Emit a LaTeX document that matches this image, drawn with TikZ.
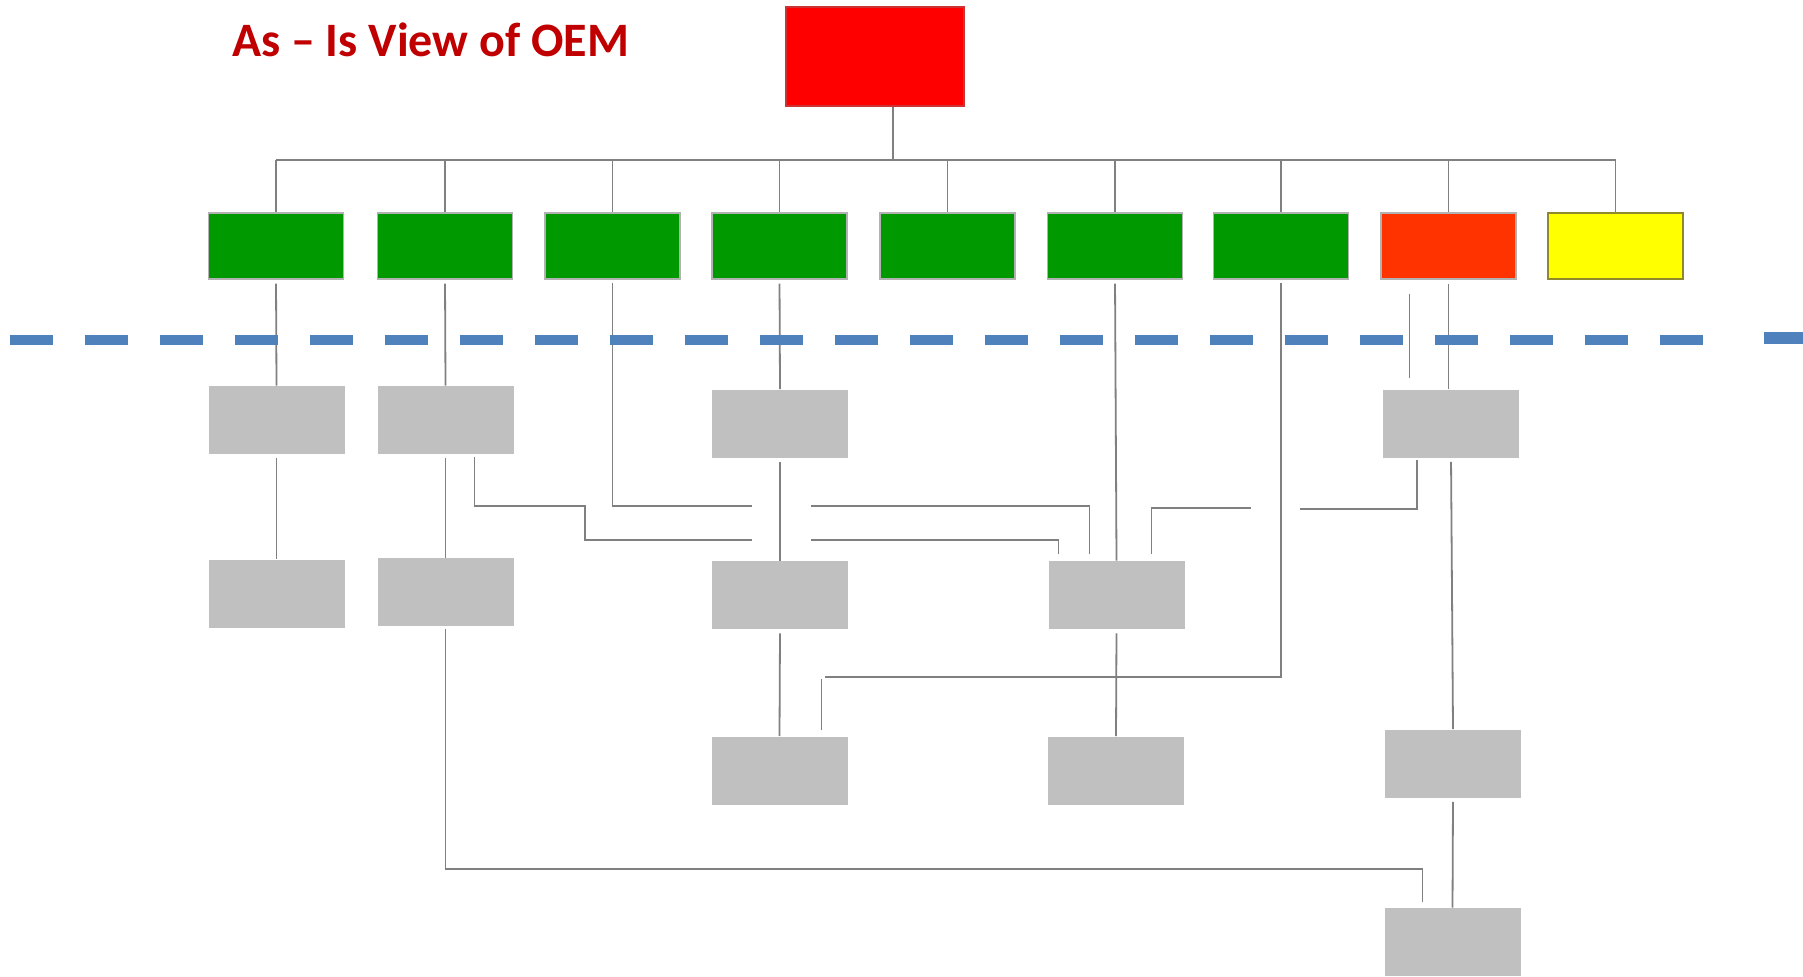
\documentclass[tikz,border=0pt]{standalone}
\usepackage{fontspec}
\setmainfont{Carlito}
\usepackage{tikz}
\usetikzlibrary{calc}
\definecolor{oemred}{RGB}{255,0,0}
\definecolor{titlered}{RGB}{192,0,0}
\definecolor{unitgreen}{RGB}{0,153,0}
\definecolor{unitorange}{RGB}{255,51,0}
\definecolor{unityellow}{RGB}{255,255,0}
\definecolor{subgrey}{RGB}{192,192,192}
\definecolor{wiregrey}{RGB}{128,128,128}
\definecolor{lineblue}{RGB}{79,129,189}
\tikzset{
	unit/.style={draw=gray!60, line width=0.6pt, minimum width=67.5pt, minimum height=33pt, inner sep=0pt},
	subunit/.style={fill=subgrey, minimum width=68pt, minimum height=34pt, inner sep=0pt},
	wire/.style={draw=wiregrey, line width=0.9pt},
	divider/.style={draw=lineblue, line width=5pt, dash pattern=on 21.5pt off 16pt}
}

\begin{document}
\begin{tikzpicture}[x=0.5pt, y=-0.5pt]
		%%%%% START %%%%%
		\useasboundingbox (0,0) rectangle (1803,976);
		
		\node[anchor=base west, text=titlered, font=\bfseries\fontsize{24}{28}\selectfont] (title) at (225,56) {As -- Is View of OEM};
		
		\node[fill=oemred, draw=red!60!gray, line width=0.6pt, minimum width=89pt, minimum height=49.5pt] (oem) at (875,56.5) {};
		
		\node[unit, fill=unitgreen] (g1) at (276,246) {};
		\node[unit, fill=unitgreen] (g2) at (445,246) {};
		\node[unit, fill=unitgreen] (g3) at (612.5,246) {};
		\node[unit, fill=unitgreen] (g4) at (779.5,246) {};
		\node[unit, fill=unitgreen] (g5) at (947.5,246) {};
		\node[unit, fill=unitgreen] (g6) at (1115,246) {};
		\node[unit, fill=unitgreen] (g7) at (1281,246) {};
		\node[unit, fill=unitorange] (g8) at (1448.5,246) {};
		\node[unit, fill=unityellow, draw=olive!70!gray] (g9) at (1615.5,246) {};
		
		% top tree
		\coordinate (bus) at (0,160);
		\coordinate (drop) at ($(oem.south)+(18,0)$);
		\draw[wire] (drop) -- (drop |- bus);
		\draw[wire] (g1.north |- bus) -- (g9.north |- bus);
		\draw[wire] (g1.north |- bus) -- (g1.north);
		\draw[wire] (g2.north |- bus) -- (g2.north);
		\draw[wire] (g3.north |- bus) -- (g3.north);
		\draw[wire] (g4.north |- bus) -- (g4.north);
		\draw[wire] (g5.north |- bus) -- (g5.north);
		\draw[wire] (g6.north |- bus) -- (g6.north);
		\draw[wire] (g7.north |- bus) -- (g7.north);
		\draw[wire] (g8.north |- bus) -- (g8.north);
		\draw[wire] (g9.north |- bus) -- (g9.north);
		
		\node[subunit] (s1) at (276.5,420) {};
		\node[subunit] (s2) at (445.5,420) {};
		\node[subunit] (s4) at (780,423.5) {};
		\node[subunit] (s8) at (1451,423.5) {};
		
		\node[subunit] (t1) at (276.5,593.5) {};
		\node[subunit] (t2) at (445.5,592) {};
		\node[subunit] (t4) at (780,595) {};
		\node[subunit] (t6) at (1116.5,595) {};
		
		\node[subunit] (u4) at (779.5,770.5) {};
		\node[subunit] (u6) at (1116,770.5) {};
		\node[subunit] (u8) at (1453,763.5) {};
		
		\node[subunit] (v8) at (1452.5,942) {};
		
		% straight drops
		\draw[wire, shorten <=2pt] (g1.south) -- (s1.north);
		\draw[wire, shorten <=2pt] (s1.south) -- (t1.north);
		\draw[wire, shorten <=2pt] (g2.south) -- (s2.north);
		\draw[wire, shorten <=2pt] (s2.south) -- (t2.north);
		\draw[wire, shorten <=2pt] (g4.south) -- (s4.north);
		\draw[wire, shorten <=2pt] (s4.south) -- (t4.north);
		\draw[wire, shorten <=2pt] (t4.south) -- (u4.north);
		\draw[wire, shorten <=2pt] (g6.south) -- (t6.north);
		\draw[wire, shorten <=2pt] (t6.south) -- (u6.north);
		\draw[wire, shorten <=2pt] (g8.south) -- (g8.south |- s8.north);
		\draw[wire] ($(g8.south)+(-39,14)$) -- ++(0,84);
		\draw[wire, shorten <=2pt] (s8.south) -- (u8.north);
		\draw[wire, shorten <=2pt] (u8.south) -- (v8.north);
		
		% cross links
		\draw[wire] ($(s2.south)+(29,3)$) |- (585,506) |- (752,540);
		\draw[wire] (811,540) -| ($(t6.north)+(-58,-7)$);
		\draw[wire] ($(g3.south)+(0,3)$) |- (752,506);
		\draw[wire] (811,506) -| ($(t6.north)+(-27,-7)$);
		\draw[wire] ($(s8.south)+(-34,2)$) |- (1300,509);
		\draw[wire] (1251,508) -| ($(t6.north)+(35,-7)$);
		\draw[wire] ($(g7.south)+(0,3)$) |- ($(u4.north)+(45,-59)$);
		\draw[wire] ($(u4.north)+(42,-57)$) -- ($(u4.north)+(42,-6)$);
		\draw[wire] ($(t2.south)+(0,3)$) |- ($(v8.north)+(-30,-39)$) -- ($(v8.north)+(-30,-6)$);
		
		% as-is line
		\draw[divider] (9.6,340) -- (1710,340);
		\draw[draw=lineblue, line width=6pt] (1764,338) -- (1803,338);
		
		%%%%% END %%%%%
	\end{tikzpicture}
\end{document}
